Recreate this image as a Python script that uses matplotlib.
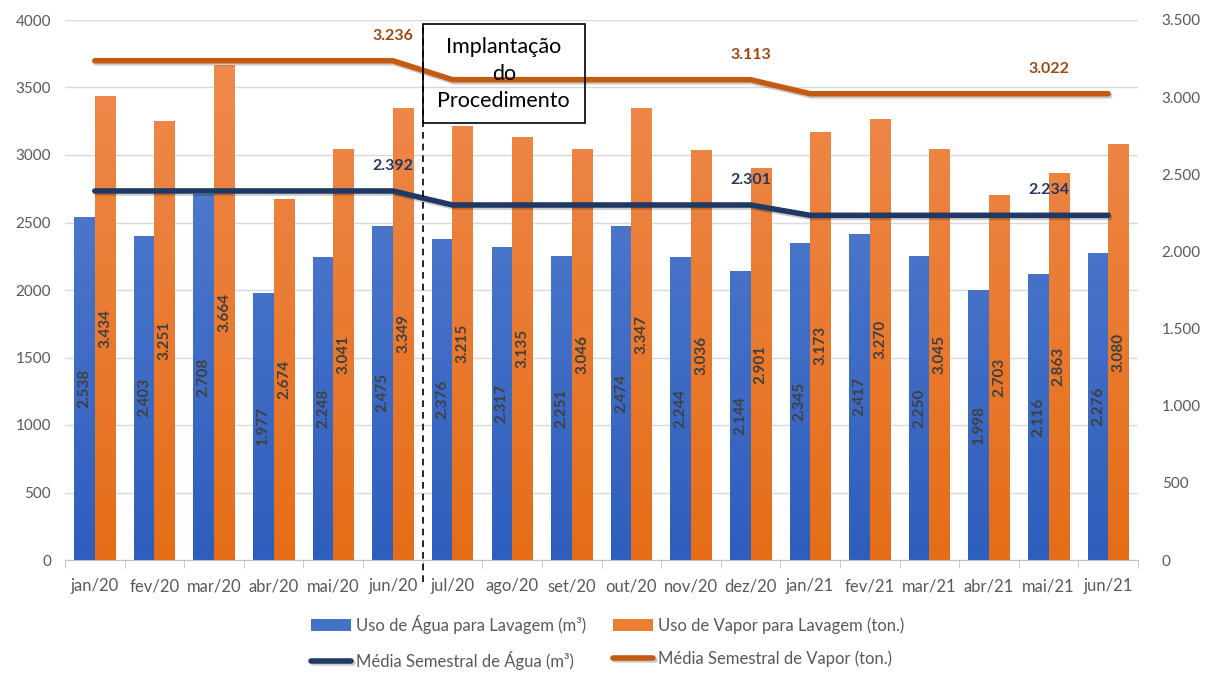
import numpy as np
import matplotlib
matplotlib.use('Agg')
import matplotlib.pyplot as plt
from matplotlib import patheffects as pe
from matplotlib.colors import LinearSegmentedColormap
from matplotlib.patches import Rectangle
from matplotlib.ticker import FuncFormatter

plt.rcParams['font.family'] = ['Lato', 'DejaVu Sans']

months = ['jan/20', 'fev/20', 'mar/20', 'abr/20', 'mai/20', 'jun/20',
          'jul/20', 'ago/20', 'set/20', 'out/20', 'nov/20', 'dez/20',
          'jan/21', 'fev/21', 'mar/21', 'abr/21', 'mai/21', 'jun/21']
agua = [2538, 2403, 2708, 1977, 2248, 2475, 2376, 2317, 2251, 2474, 2244, 2144,
        2345, 2417, 2250, 1998, 2116, 2276]
vapor = [3434, 3251, 3664, 2674, 3041, 3349, 3215, 3135, 3046, 3347, 3036, 2901,
         3173, 3270, 3045, 2703, 2863, 3080]
media_agua = [2392] * 6 + [2301] * 6 + [2234] * 6
media_vapor = [3236] * 6 + [3113] * 6 + [3022] * 6
label_idx = [5, 11, 16]

def fmt_pt(v):
    return f'{int(v):,}'.replace(',', '.')

gray = '#595959'
fig = plt.figure(figsize=(12.11, 6.79), dpi=100)
ax = fig.add_axes([65 / 1211, 1 - 560 / 679, 1073 / 1211, 540 / 679])
x = np.arange(len(months))
w = 0.345

cm_blue = LinearSegmentedColormap.from_list('b', ['#2e5ebd', '#5b84d2'])
cm_orange = LinearSegmentedColormap.from_list('o', ['#e56d17', '#f08c52'])
grad = np.linspace(0, 1, 256).reshape(-1, 1)

b1 = ax.bar(x - w / 2, agua, w, color='#4472C4', zorder=2)
b2 = ax.bar(x + w / 2, vapor, w, color='#ED7D31', zorder=2)
for bars, cmap in ((b1, cm_blue), (b2, cm_orange)):
    for p in bars:
        x0 = p.get_x()
        im = ax.imshow(grad, cmap=cmap, origin='lower', aspect='auto',
                       extent=[x0, x0 + p.get_width(), 0, 4000], zorder=2.1)
        im.set_clip_path(p)

for xi, v in zip(x, agua):
    ax.text(xi - w / 2, v / 2, fmt_pt(v), rotation=90, ha='center', va='center',
            fontsize=11, fontweight='bold', color='#404040', zorder=3)
for xi, v in zip(x, vapor):
    ax.text(xi + w / 2, v / 2, fmt_pt(v), rotation=90, ha='center', va='center',
            fontsize=11, fontweight='bold', color='#404040', zorder=3)

ax.set_xlim(-0.5, len(months) - 0.5)
ax.set_ylim(0, 4000)
ax.set_yticks(range(0, 4001, 500))
ax.grid(axis='y', color='#d9d9d9', linewidth=1, zorder=0)
ax.set_axisbelow(True)
ax.set_xticks(x)
ax.set_xticklabels(months)
ax.set_xticks(np.arange(-0.5, len(months)), minor=True)
ax.tick_params(axis='x', which='major', length=0, pad=13, labelsize=12, labelcolor=gray)
ax.tick_params(axis='x', which='minor', length=6, color='#bfbfbf')
ax.tick_params(axis='y', length=0, pad=10, labelsize=11, labelcolor=gray)
for s in ['top', 'right', 'left']:
    ax.spines[s].set_visible(False)
ax.spines['bottom'].set_color('#bfbfbf')

ax2 = ax.twinx()
ax2.set_ylim(0, 3500)
ax2.set_yticks(range(0, 3501, 500))
ax2.yaxis.set_major_formatter(FuncFormatter(lambda v, p: fmt_pt(v)))
ax2.tick_params(axis='y', length=0, pad=17, labelsize=11, labelcolor=gray)
for s in ax2.spines.values():
    s.set_visible(False)

shadow = [pe.SimpleLineShadow(offset=(1, -1.5), alpha=0.2), pe.Normal()]
la, = ax2.plot(x, media_agua, color='#203864', linewidth=4, solid_capstyle='round',
               path_effects=shadow, zorder=4)
lv, = ax2.plot(x, media_vapor, color='#C55A11', linewidth=4, solid_capstyle='round',
               path_effects=shadow, zorder=4)
for i in label_idx:
    ax2.annotate(fmt_pt(media_agua[i]), (x[i], media_agua[i]), xytext=(0, 18),
                 textcoords='offset points', ha='center', va='center',
                 fontsize=11.5, fontweight='bold', color='#203864', zorder=5)
    ax2.annotate(fmt_pt(media_vapor[i]), (x[i], media_vapor[i]), xytext=(0, 18),
                 textcoords='offset points', ha='center', va='center',
                 fontsize=11.5, fontweight='bold', color='#9E480E', zorder=5)

# linha de implantacao + caixa
trans = ax2.get_xaxis_transform()
ax2.plot([5.5, 5.5], [-0.04, 0.993], transform=trans,
         color='black', linestyle=(0, (4, 3)), linewidth=1.2, clip_on=False, zorder=6)
ax2.add_patch(Rectangle((5.5, 0.809), 2.72, 0.184, transform=trans, fill=False,
                        edgecolor='black', linewidth=1.2, zorder=6, clip_on=False))
ax2.text(6.86, 0.9, 'Implantação\ndo\nProcedimento', transform=trans,
         ha='center', va='center', fontsize=15.5, color='black',
         linespacing=1.42, zorder=6)

handles = [b1, la, b2, lv]
labels = ['Uso de Água para Lavagem (m³)', 'Média Semestral de Água (m³)',
          'Uso de Vapor para Lavagem (ton.)', 'Média Semestral de Vapor (ton.)']
leg = fig.legend(handles, labels, ncol=2, loc='center', bbox_to_anchor=(0.502, 0.054),
                 frameon=False, fontsize=12, labelcolor=gray, handlelength=2.4,
                 handleheight=0.7, handletextpad=0.3, columnspacing=1.6, labelspacing=1.0)

plt.savefig('out.png', dpi=100)
plt.close()
